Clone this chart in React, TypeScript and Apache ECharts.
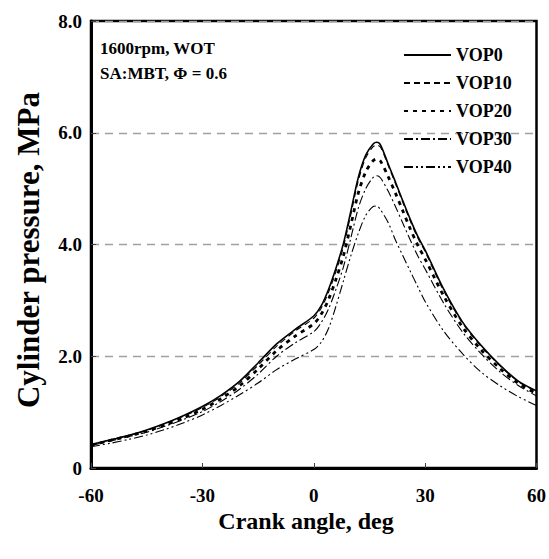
import React, { useEffect, useRef } from "react";
import * as echarts from "echarts";

const angles = [-60, -55, -50, -45, -40, -35, -30, -25, -20, -15, -10, -5, 0, 2, 4, 6, 8, 10, 12, 14, 16, 17, 18, 20, 22, 24, 26, 28, 30, 35, 40, 45, 50, 55, 60];

const vop0 = [0.42, 0.50, 0.58, 0.68, 0.80, 0.94, 1.10, 1.30, 1.55, 1.88, 2.22, 2.48, 2.72, 2.90, 3.20, 3.58, 4.02, 4.60, 5.20, 5.60, 5.80, 5.83, 5.78, 5.45, 5.12, 4.78, 4.45, 4.15, 3.90, 3.20, 2.62, 2.20, 1.85, 1.56, 1.38];
const vop10 = [0.42, 0.50, 0.58, 0.67, 0.79, 0.93, 1.08, 1.28, 1.52, 1.84, 2.18, 2.45, 2.68, 2.86, 3.15, 3.52, 3.96, 4.54, 5.14, 5.55, 5.75, 5.78, 5.74, 5.42, 5.09, 4.75, 4.42, 4.12, 3.87, 3.17, 2.60, 2.18, 1.84, 1.55, 1.37];
const vop20 = [0.41, 0.49, 0.57, 0.66, 0.77, 0.90, 1.05, 1.24, 1.47, 1.77, 2.10, 2.36, 2.58, 2.75, 3.02, 3.38, 3.80, 4.35, 4.92, 5.30, 5.50, 5.53, 5.49, 5.22, 4.92, 4.60, 4.28, 3.99, 3.74, 3.08, 2.53, 2.12, 1.79, 1.52, 1.33];
const vop30 = [0.40, 0.48, 0.56, 0.64, 0.75, 0.87, 1.01, 1.19, 1.41, 1.68, 2.00, 2.24, 2.44, 2.60, 2.85, 3.20, 3.60, 4.12, 4.65, 5.00, 5.20, 5.23, 5.19, 4.96, 4.68, 4.38, 4.08, 3.80, 3.56, 2.95, 2.44, 2.05, 1.73, 1.48, 1.29];
const vop40 = [0.38, 0.44, 0.51, 0.59, 0.69, 0.81, 0.95, 1.12, 1.31, 1.52, 1.76, 1.95, 2.12, 2.25, 2.50, 2.90, 3.35, 3.80, 4.20, 4.52, 4.68, 4.69, 4.62, 4.40, 4.08, 3.80, 3.52, 3.25, 2.98, 2.45, 2.05, 1.72, 1.48, 1.28, 1.12];

const seriesNames = ["VOP0", "VOP10", "VOP20", "VOP30", "VOP40"];
const seriesValues = [vop0, vop10, vop20, vop30, vop40];

const xTicks = [-60, -30, 0, 30, 60];
const yTicks = [0, 2, 4, 6, 8];

const lineStyles: any[] = [
  { width: 1.6, type: "solid" },
  { width: 1.1, type: [6, 4] },
  { width: 2.8, type: [4, 5] },
  { width: 1.1, type: [9, 3, 2, 3] },
  { width: 1.1, type: [9, 3, 2, 3, 2, 3] },
];

const FONT = "'Liberation Serif', 'Times New Roman', serif";

export default function App() {
  const ref = useRef<HTMLDivElement>(null);
  useEffect(() => {
    document.body.style.margin = "0";
    if (!ref.current) return;
    const chart = echarts.init(ref.current, undefined, { renderer: "svg" });
    const option: any = {
      animation: false,
      backgroundColor: "#ffffff",
      grid: {
        left: 91,
        right: 12,
        top: 21,
        bottom: 91,
        show: true,
        borderColor: "#000",
        borderWidth: 2.5,
        backgroundColor: "transparent",
      },
      legend: {
        orient: "vertical",
        left: 403,
        top: 46,
        padding: 0,
        itemWidth: 47,
        itemHeight: 14,
        itemGap: 10,
        data: seriesNames,
        itemStyle: { opacity: 0 },
        textStyle: {
          fontFamily: FONT,
          fontWeight: "bold",
          fontSize: 18,
          color: "#000",
        },
      },
      xAxis: {
        type: "value",
        min: -60,
        max: 60,
        interval: 30,
        axisLine: { show: true, onZero: false, lineStyle: { color: "#000", width: 3 } },
        axisTick: { show: true, inside: true, length: 5, lineStyle: { color: "#444", width: 1 } },
        splitLine: { show: false },
        axisLabel: {
          margin: 18,
          fontFamily: FONT,
          fontWeight: "bold",
          fontSize: 19,
          color: "#000",
          formatter: (v: number) => (xTicks.includes(v) ? String(v) : ""),
        },
      },
      yAxis: {
        type: "value",
        min: 0,
        max: 8,
        interval: 2,
        axisLine: { show: true, onZero: false, lineStyle: { color: "#000", width: 3 } },
        axisTick: { show: true, inside: true, length: 5, lineStyle: { color: "#444", width: 1 } },
        splitLine: {
          show: true,
          lineStyle: { color: "#a0a0a0", width: 1.3, type: [8, 6] },
        },
        axisLabel: {
          margin: 9,
          fontFamily: FONT,
          fontWeight: "bold",
          fontSize: 19,
          color: "#000",
          formatter: (v: number) => (yTicks.includes(v) ? (v === 0 ? "0" : v.toFixed(1)) : ""),
        },
      },
      graphic: [
        {
          type: "text",
          left: 100,
          top: 36,
          style: {
            text: "1600rpm, WOT\nSA:MBT, \u03A6 = 0.6",
            fontFamily: FONT,
            fontWeight: "bold",
            fontSize: 17,
            lineHeight: 25,
            fill: "#000",
          },
        },
        {
          type: "text",
          x: 28,
          y: 250,
          rotation: Math.PI / 2,
          style: {
            text: "Cylinder pressure, MPa",
            fontFamily: FONT,
            fontWeight: "bold",
            fontSize: 31,
            fill: "#000",
            align: "center",
            verticalAlign: "middle",
          },
        },
        {
          type: "text",
          x: 306,
          y: 521,
          style: {
            text: "Crank angle, deg",
            fontFamily: FONT,
            fontWeight: "bold",
            fontSize: 24,
            fill: "#000",
            align: "center",
            verticalAlign: "middle",
          },
        },
      ],
      series: seriesNames.map((name, i) => ({
        name,
        type: "line",
        smooth: 0.3,
        symbol: "none",
        data: angles.map((a, j) => [a, seriesValues[i][j]]),
        lineStyle: { color: "#000", ...lineStyles[i] },
        itemStyle: { color: "#000" },
      })),
    };
    chart.setOption(option);
    return () => chart.dispose();
  }, []);
  return <div ref={ref} style={{ width: 549, height: 559 }} />;
}
